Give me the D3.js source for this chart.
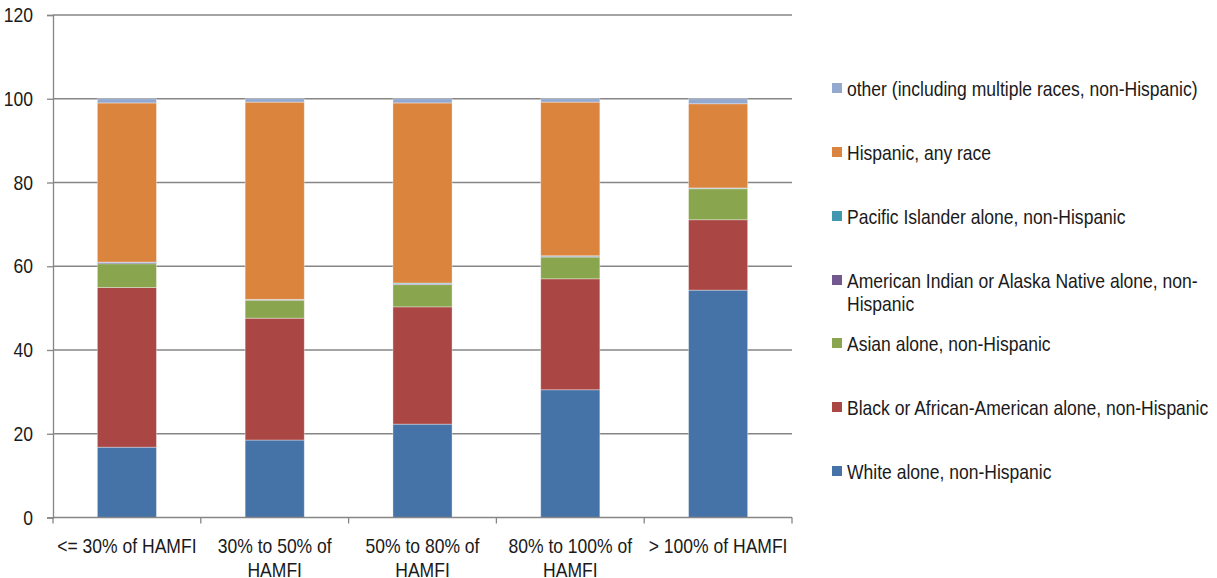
<!DOCTYPE html>
<html>
<head>
<meta charset="utf-8">
<script src="https://cdn.jsdelivr.net/npm/d3@7"></script>
<style>
  html, body { margin: 0; padding: 0; background: #fff; }
  svg { display: block; font-family: "Liberation Sans Narrow", "Liberation Sans", Arial, sans-serif; }
  text { fill: #1a1a1a; }
</style>
</head>
<body>
<svg id="chart" width="1217" height="578"></svg>
<script>
// Income bands (share of HUD Area Median Family Income)
const categories = ["<= 30% of HAMFI", "30% to 50% of HAMFI", "50% to 80% of HAMFI", "80% to 100% of HAMFI", "> 100% of HAMFI"];

// Percent of households in each band, by race / ethnicity
const white    = [16.8, 18.5, 22.3, 30.5, 54.3];
const black    = [38.1, 29.1, 28.0, 26.5, 16.8];
const asian    = [5.7, 4.3, 5.3, 5.2, 7.4];
const aian     = [0.3, 0.1, 0.2, 0.2, 0.1];
const pacific  = [0.1, 0.1, 0.2, 0.1, 0.1];
const hispanic = [38.0, 47.1, 43.0, 36.7, 20.1];
const other    = [1.0, 0.8, 1.0, 0.8, 1.2];

const seriesNames = [
  "White alone, non-Hispanic",
  "Black or African-American alone, non-Hispanic",
  "Asian alone, non-Hispanic",
  "American Indian or Alaska Native alone, non-Hispanic",
  "Pacific Islander alone, non-Hispanic",
  "Hispanic, any race",
  "other (including multiple races, non-Hispanic)"
];
const seriesValues = [white, black, asian, aian, pacific, hispanic, other];
const seriesColors = ["#4572A7", "#AA4643", "#89A54E", "#71588F", "#4198AF", "#DB843D", "#93A9CF"];

const yTicks = [0, 20, 40, 60, 80, 100, 120];

// Narrow lettering: regular sans squeezed horizontally
const NARROW = 0.835;
const FONT_SIZE = 21;

// Build rows for d3.stack
const keys = seriesNames;
const rows = categories.map((c, i) => {
  const r = { category: c };
  keys.forEach((k, j) => { r[k] = seriesValues[j][i]; });
  return r;
});
const stacked = d3.stack().keys(keys)(rows);

const svg = d3.select("#chart");
const plot = { left: 53, right: 792, top: 15, bottom: 517.5 };

const x = d3.scaleBand().domain(categories)
  .range([plot.left, plot.right]).paddingInner(0.6).paddingOuter(0.3);
const y = d3.scaleLinear().domain([0, 120]).range([plot.bottom, plot.top]);
const color = d3.scaleOrdinal().domain(keys).range(seriesColors);

const gridColor = "#868686";

// Horizontal gridlines
svg.append("g").selectAll("line")
  .data(yTicks.filter(t => t > 0))
  .join("line")
  .attr("x1", plot.left).attr("x2", plot.right)
  .attr("y1", d => y(d)).attr("y2", d => y(d))
  .attr("stroke", gridColor).attr("stroke-width", 1.3);

// Y axis
const yAxis = svg.append("g")
  .attr("transform", `translate(${plot.left},0)`)
  .call(d3.axisLeft(y).tickValues(yTicks).tickSize(6).tickPadding(14).tickFormat(d3.format("d")));
yAxis.attr("font-family", null);
yAxis.select(".domain").attr("stroke", gridColor).attr("stroke-width", 1.3);
yAxis.selectAll(".tick line").attr("stroke", gridColor).attr("stroke-width", 1.3);
yAxis.selectAll(".tick text")
  .attr("font-size", FONT_SIZE).attr("fill", "#1a1a1a")
  .attr("x", -20 / NARROW)
  .attr("transform", `scale(${NARROW},1)`);

// Stacked bars
svg.append("g").selectAll("g")
  .data(stacked)
  .join("g")
  .attr("fill", d => color(d.key))
  .selectAll("rect")
  .data(d => d)
  .join("rect")
  .attr("x", d => x(d.data.category))
  .attr("width", x.bandwidth())
  .attr("y", d => y(d[1]))
  .attr("height", d => y(d[0]) - y(d[1]))
  .attr("stroke", "rgba(255,255,255,0.45)")
  .attr("stroke-width", 0.8);

// X axis line with ticks at band boundaries
const step = x.step();
const boundaries = d3.range(categories.length + 1).map(i => plot.left + i * step);
const xg = svg.append("g");
xg.append("line")
  .attr("x1", plot.left).attr("x2", plot.right)
  .attr("y1", plot.bottom).attr("y2", plot.bottom)
  .attr("stroke", gridColor).attr("stroke-width", 1.3);
xg.selectAll("line.tk")
  .data(boundaries)
  .join("line").attr("class", "tk")
  .attr("x1", d => d).attr("x2", d => d)
  .attr("y1", plot.bottom).attr("y2", plot.bottom + 6)
  .attr("stroke", gridColor).attr("stroke-width", 1.3);

// Category labels, wrapped to the band width
function wrapWords(textSel, width, lineHeight) {
  textSel.each(function () {
    const t = d3.select(this);
    const words = t.text().split(/\s+/);
    t.text(null);
    let line = [];
    let tspan = t.append("tspan").attr("x", 0).attr("y", 0);
    let n = 0;
    words.forEach(w => {
      line.push(w);
      tspan.text(line.join(" "));
      if (tspan.node().getComputedTextLength() > width && line.length > 1) {
        line.pop();
        tspan.text(line.join(" "));
        line = [w];
        n += 1;
        tspan = t.append("tspan").attr("x", 0).attr("y", n * lineHeight).text(w);
      }
    });
  });
}

svg.append("g").selectAll("g")
  .data(categories)
  .join("g")
  .attr("transform", d => `translate(${x(d) + x.bandwidth() / 2},552.5) scale(${NARROW},1)`)
  .append("text")
  .attr("text-anchor", "middle")
  .attr("font-size", FONT_SIZE)
  .text(d => d)
  .call(wrapWords, (step - 4) / NARROW, 24.5);

// Legend (top to bottom in reverse stack order)
const legendOrder = keys.slice().reverse();
const legendY = [88, 152, 216, 280, 343, 407, 471];
const legend = svg.append("g");
legendOrder.forEach((k, i) => {
  const g = legend.append("g").attr("transform", `translate(832,${legendY[i]})`);
  g.append("rect").attr("x", 0).attr("y", -5).attr("width", 10).attr("height", 10)
    .attr("fill", color(k));
  const t = g.append("g").attr("transform", `translate(15,7.5) scale(${NARROW},1)`)
    .append("text").attr("font-size", FONT_SIZE);
  if (k.startsWith("American Indian")) {
    t.append("tspan").attr("x", 0).attr("y", 0).text("American Indian or Alaska Native alone, non-");
    t.append("tspan").attr("x", 0).attr("y", 24).text("Hispanic");
  } else {
    t.text(k);
  }
});
</script>
</body>
</html>
